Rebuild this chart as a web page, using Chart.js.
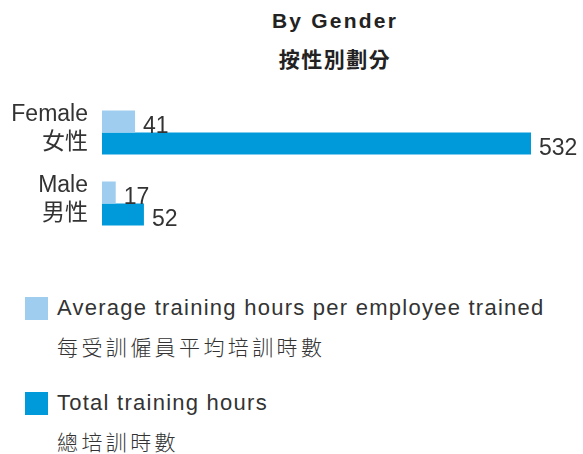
<!DOCTYPE html>
<html>
<head>
<meta charset="utf-8">
<script src="https://cdn.jsdelivr.net/npm/chart.js@4.4.0/dist/chart.umd.min.js"></script>
<style>
  body { margin: 0; background: #fff; }
  #wrap { position: relative; width: 583px; height: 454px; font-family: "Liberation Sans", Arial, "Noto Sans CJK TC", sans-serif; color: #333; }
  .title { position: absolute; left: 200px; width: 270px; text-align: center; font-weight: bold; font-size: 21px; letter-spacing: 2.2px; color: #222; }
  #chartBox { position: absolute; left: 0; top: 90px; width: 583px; height: 156px; }
  .leg { position: absolute; left: 25px; }
  .leg .box { position: absolute; left: 0; width: 23px; height: 23px; }
  .leg .t1, .leg .t2 { position: absolute; left: 32px; white-space: nowrap; font-size: 22px; line-height: 26px; letter-spacing: 1.25px; }
  .leg .t2 { font-family: "Noto Sans CJK TC", sans-serif; font-weight: 300; font-size: 21px; letter-spacing: 3.4px; }
</style>
</head>
<body>
<div id="wrap">
  <div class="title" style="top:9px">By Gender</div>
  <div class="title" style="top:43px; font-family:'Noto Sans CJK TC', sans-serif; font-size:21px; letter-spacing:1.5px">按性別劃分</div>
  <div id="chartBox"><canvas id="chart"></canvas></div>
  <div id="legend"></div>
</div>
<script>
// Datos
const categorias = [['Female', '女性'], ['Male', '男性']];
const promedioHoras = [41, 17];
const totalHoras = [532, 52];
const etiquetas = [
  ['Average training hours per employee trained', '每受訓僱員平均培訓時數'],
  ['Total training hours', '總培訓時數']
];
const colores = ['#9fcdef', '#009ada'];

// Etiquetas de valor al final de cada barra
const valoresPlugin = {
  id: 'valores',
  afterDatasetsDraw(chart) {
    const ctx = chart.ctx;
    ctx.save();
    ctx.font = '23px "Liberation Sans", Arial, sans-serif';
    ctx.fillStyle = '#333';
    ctx.textAlign = 'left';
    ctx.textBaseline = 'middle';
    chart.data.datasets.forEach((ds, i) => {
      chart.getDatasetMeta(i).data.forEach((el, j) => {
        ctx.fillText(ds.data[j], el.x + 8, el.y + 5);
      });
    });
    ctx.restore();
  }
};

new Chart(document.getElementById('chart'), {
  type: 'bar',
  data: {
    labels: categorias,
    datasets: [
      { label: etiquetas[0][0], data: promedioHoras, backgroundColor: colores[0] },
      { label: etiquetas[1][0], data: totalHoras, backgroundColor: colores[1] }
    ]
  },
  options: {
    indexAxis: 'y',
    responsive: true,
    maintainAspectRatio: false,
    animation: false,
    categoryPercentage: 44 / 71,
    barPercentage: 1,
    layout: { padding: { top: 7, bottom: 7, left: 0, right: 52 } },
    plugins: { legend: { display: false }, tooltip: { enabled: false } },
    scales: {
      x: {
        min: 0,
        max: Math.max(...totalHoras),
        display: false
      },
      y: {
        grid: { display: false },
        border: { display: false },
        afterFit: (s) => {
          s.width = 102;
          s.paddingTop = 0;
          s.paddingBottom = 0;
        },
        ticks: {
          color: '#333',
          padding: 6,
          labelOffset: -4,
          font: { size: 23, family: '"Liberation Sans", Arial, "Noto Sans CJK TC", sans-serif', lineHeight: 1.2 }
        }
      }
    }
  },
  plugins: [valoresPlugin]
});

// Leyenda en HTML
const tops = [297, 392];
document.getElementById('legend').innerHTML = etiquetas.map((e, i) => `
  <div class="leg" style="top:${tops[i]}px">
    <div class="box" style="background:${colores[i]}"></div>
    <div class="t1" style="top:-2px">${e[0]}</div>
    <div class="t2" style="top:36px">${e[1]}</div>
  </div>`).join('');
</script>
</body>
</html>
